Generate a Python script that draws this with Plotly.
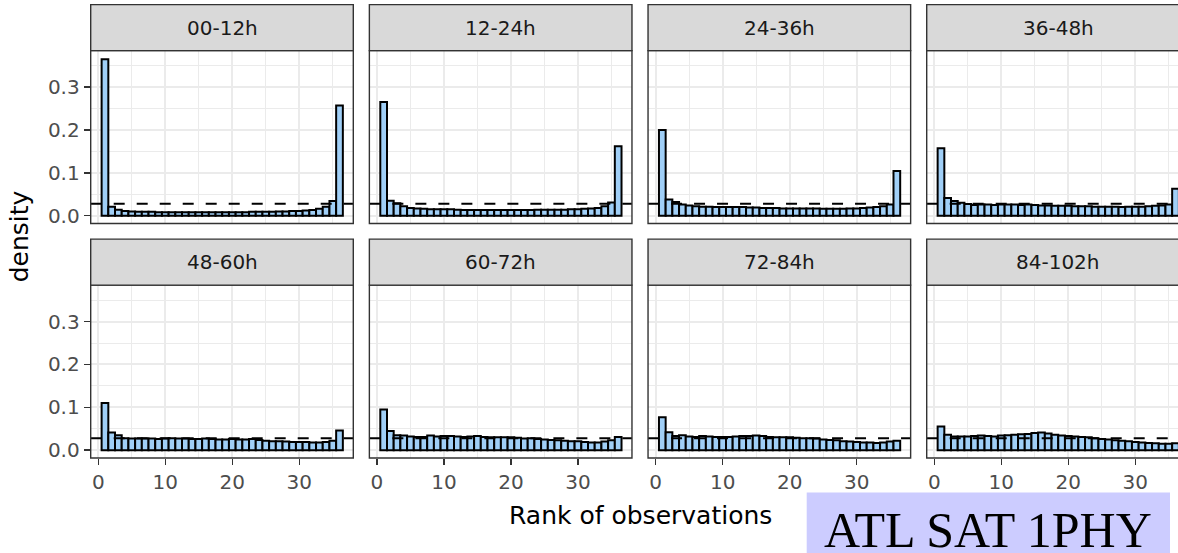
import plotly.graph_objects as go

# ---------------- data ----------------
panel_titles = ["00-12h", "12-24h", "24-36h", "36-48h",
                "48-60h", "60-72h", "72-84h", "84-102h"]
ranks = list(range(1, 37))

density_00_12 = [0.365, 0.021, 0.014, 0.011, 0.010, 0.009, 0.009, 0.009, 0.008, 0.008,
                 0.008, 0.008, 0.008, 0.008, 0.008, 0.008, 0.008, 0.008, 0.008, 0.008,
                 0.008, 0.008, 0.009, 0.009, 0.009, 0.009, 0.010, 0.010, 0.011, 0.011,
                 0.012, 0.013, 0.016, 0.021, 0.034, 0.257]
density_12_24 = [0.265, 0.035, 0.029, 0.022, 0.018, 0.017, 0.016, 0.015, 0.015, 0.015,
                 0.015, 0.014, 0.013, 0.013, 0.013, 0.013, 0.013, 0.013, 0.013, 0.013,
                 0.013, 0.013, 0.013, 0.014, 0.014, 0.014, 0.014, 0.014, 0.015, 0.015,
                 0.016, 0.017, 0.018, 0.022, 0.031, 0.162]
density_24_36 = [0.200, 0.038, 0.032, 0.026, 0.024, 0.022, 0.021, 0.021, 0.020, 0.020,
                 0.020, 0.020, 0.020, 0.019, 0.019, 0.018, 0.018, 0.018, 0.017, 0.017,
                 0.017, 0.017, 0.017, 0.017, 0.016, 0.016, 0.016, 0.016, 0.017, 0.017,
                 0.018, 0.019, 0.020, 0.022, 0.026, 0.104]
density_36_48 = [0.157, 0.041, 0.034, 0.030, 0.027, 0.025, 0.026, 0.026, 0.025, 0.026,
                 0.026, 0.026, 0.025, 0.026, 0.025, 0.024, 0.024, 0.023, 0.023, 0.023,
                 0.022, 0.022, 0.022, 0.021, 0.021, 0.021, 0.021, 0.020, 0.021, 0.021,
                 0.021, 0.022, 0.023, 0.024, 0.026, 0.063]
density_48_60 = [0.110, 0.041, 0.035, 0.028, 0.027, 0.027, 0.027, 0.027, 0.026, 0.027,
                 0.028, 0.027, 0.027, 0.026, 0.026, 0.027, 0.026, 0.025, 0.025, 0.026,
                 0.025, 0.025, 0.026, 0.024, 0.022, 0.021, 0.021, 0.020, 0.019, 0.019,
                 0.019, 0.018, 0.018, 0.019, 0.022, 0.046]
density_60_72 = [0.095, 0.045, 0.035, 0.034, 0.032, 0.031, 0.031, 0.034, 0.032, 0.033,
                 0.033, 0.032, 0.031, 0.032, 0.033, 0.031, 0.030, 0.030, 0.030, 0.030,
                 0.029, 0.027, 0.028, 0.026, 0.025, 0.024, 0.023, 0.022, 0.021, 0.021,
                 0.019, 0.018, 0.018, 0.020, 0.023, 0.031]
density_72_84 = [0.077, 0.042, 0.033, 0.035, 0.032, 0.031, 0.033, 0.032, 0.031, 0.031,
                 0.031, 0.032, 0.033, 0.033, 0.034, 0.033, 0.031, 0.030, 0.030, 0.030,
                 0.029, 0.028, 0.028, 0.027, 0.025, 0.024, 0.023, 0.021, 0.020, 0.019,
                 0.018, 0.018, 0.017, 0.018, 0.020, 0.022]
density_84_102 = [0.055, 0.036, 0.032, 0.032, 0.032, 0.033, 0.034, 0.033, 0.032, 0.034,
                  0.035, 0.036, 0.037, 0.038, 0.040, 0.041, 0.039, 0.036, 0.034, 0.033,
                  0.032, 0.031, 0.030, 0.028, 0.026, 0.025, 0.023, 0.022, 0.021, 0.019,
                  0.018, 0.017, 0.016, 0.015, 0.015, 0.016]

panel_values = [density_00_12, density_12_24, density_24_36, density_36_48,
                density_48_60, density_60_72, density_72_84, density_84_102]

expected_density = 1 / 36          # uniform rank histogram reference
x_tick_vals = [0, 10, 20, 30]
y_tick_vals = [0.0, 0.1, 0.2, 0.3]
x_title = "Rank of observations"
y_title = "density"
badge_text = "ATL SAT 1PHY"

# ---------------- layout geometry (pixels) ----------------
W, H = 1178, 553
X_RANGE = [-1.13, 38.06]
Y_RANGE = [-0.0184, 0.385]
panel_w = 262.6
col_left = [90.7, 90.7 + 278.67, 90.7 + 2 * 278.67, 90.7 + 3 * 278.67]
row_top = [51.0, 287.2]
row_bot = [225.2, 461.4]
strip_h = 46.3
px_per_unit = panel_w / (X_RANGE[1] - X_RANGE[0])

FONT = "DejaVu Sans, Liberation Sans, Arial, sans-serif"
BORDER = "#333333"
GRID = "#ebebeb"
BAR_FILL = "#a0cff7"


def fx(px):
    return px / W


def fy(py):
    return 1 - py / H


fig = go.Figure()
layout_axes = {}
shapes = []
annotations = []

for i, (title, vals) in enumerate(zip(panel_titles, panel_values)):
    r, c = divmod(i, 4)
    n = i + 1
    xa = "x" if n == 1 else f"x{n}"
    ya = "y" if n == 1 else f"y{n}"
    left = col_left[c]
    right = left + panel_w
    xr = list(X_RANGE)
    if right > W:
        xr[1] = X_RANGE[0] + (W - left) / px_per_unit
        right_dom = 1.0
    else:
        right_dom = fx(right)

    fig.add_trace(go.Bar(
        x=ranks, y=vals, width=1.0, xaxis=xa, yaxis=ya,
        marker=dict(color=BAR_FILL, line=dict(color="black", width=2)),
        showlegend=False, hoverinfo="x+y"))
    fig.add_trace(go.Scatter(
        x=[X_RANGE[0], X_RANGE[1]], y=[expected_density, expected_density],
        xaxis=xa, yaxis=ya, mode="lines",
        line=dict(color="black", width=2, dash="11px,12px"),
        showlegend=False, hoverinfo="skip"))

    bottom_row = (r == 1)
    left_col = (c == 0)
    layout_axes["xaxis" if n == 1 else f"xaxis{n}"] = dict(
        domain=[fx(left), right_dom], range=xr, anchor=ya,
        tickvals=x_tick_vals, showticklabels=bottom_row,
        ticks="outside" if bottom_row else "", ticklen=6, tickwidth=1.5, tickcolor=BORDER,
        tickfont=dict(family=FONT, size=20, color="#4d4d4d"),
        showgrid=True, gridcolor=GRID, gridwidth=2,
        minor=dict(tickvals=[5, 15, 25, 35], showgrid=True, gridcolor=GRID, gridwidth=1),
        zeroline=False, showline=False, fixedrange=True)
    layout_axes["yaxis" if n == 1 else f"yaxis{n}"] = dict(
        domain=[fy(row_bot[r]), fy(row_top[r])], range=Y_RANGE, anchor=xa,
        tickvals=y_tick_vals, tickformat=".1f", showticklabels=left_col,
        ticks="outside" if left_col else "", ticklen=6, tickwidth=1.5, tickcolor=BORDER,
        tickfont=dict(family=FONT, size=20, color="#4d4d4d"),
        showgrid=True, gridcolor=GRID, gridwidth=2,
        minor=dict(tickvals=[0.05, 0.15, 0.25, 0.35], showgrid=True, gridcolor=GRID, gridwidth=1),
        zeroline=False, showline=False, fixedrange=True)

    # panel border
    shapes.append(dict(type="rect", xref="paper", yref="paper",
                       x0=fx(left), x1=fx(right), y0=fy(row_bot[r]), y1=fy(row_top[r]),
                       line=dict(color=BORDER, width=1.4), fillcolor="rgba(0,0,0,0)",
                       layer="above"))
    # strip
    s_top = row_top[r] - strip_h
    shapes.append(dict(type="rect", xref="paper", yref="paper",
                       x0=fx(left), x1=fx(right), y0=fy(row_top[r]), y1=fy(s_top),
                       line=dict(color=BORDER, width=1.4), fillcolor="#d9d9d9",
                       layer="above"))
    annotations.append(dict(text=title, xref="paper", yref="paper",
                            x=fx(left + panel_w / 2), y=fy(s_top + strip_h / 2),
                            xanchor="center", yanchor="middle", showarrow=False,
                            font=dict(family=FONT, size=20, color="#1a1a1a")))

# axis titles
annotations.append(dict(text=x_title, xref="paper", yref="paper",
                        x=fx(640), y=fy(519), xanchor="center", yanchor="middle",
                        showarrow=False, font=dict(family=FONT, size=25, color="black")))
annotations.append(dict(text=y_title, xref="paper", yref="paper",
                        x=fx(19), y=fy(238), xanchor="center", yanchor="middle",
                        textangle=-90, showarrow=False,
                        font=dict(family=FONT, size=25, color="black")))

# badge
shapes.append(dict(type="rect", xref="paper", yref="paper",
                   x0=fx(806.7), x1=fx(1170), y0=fy(H + 20), y1=fy(496),
                   line=dict(width=0), fillcolor="#ccccff", layer="above"))
annotations.append(dict(text=badge_text, xref="paper", yref="paper",
                        x=fx(988.3), y=fy(534), xanchor="center", yanchor="middle",
                        showarrow=False,
                        font=dict(family="Liberation Serif, Times New Roman, serif",
                                  size=50, color="black")))

fig.update_layout(
    width=W, height=H, margin=dict(l=0, r=0, t=0, b=0),
    paper_bgcolor="white", plot_bgcolor="white",
    bargap=0, showlegend=False, hovermode=False,
    shapes=shapes, annotations=annotations, **layout_axes)

fig.write_html("out.html",
               config={"displayModeBar": False, "staticPlot": True},
               post_script="document.body.style.margin='0';"
                           "document.body.style.overflow='hidden';")
